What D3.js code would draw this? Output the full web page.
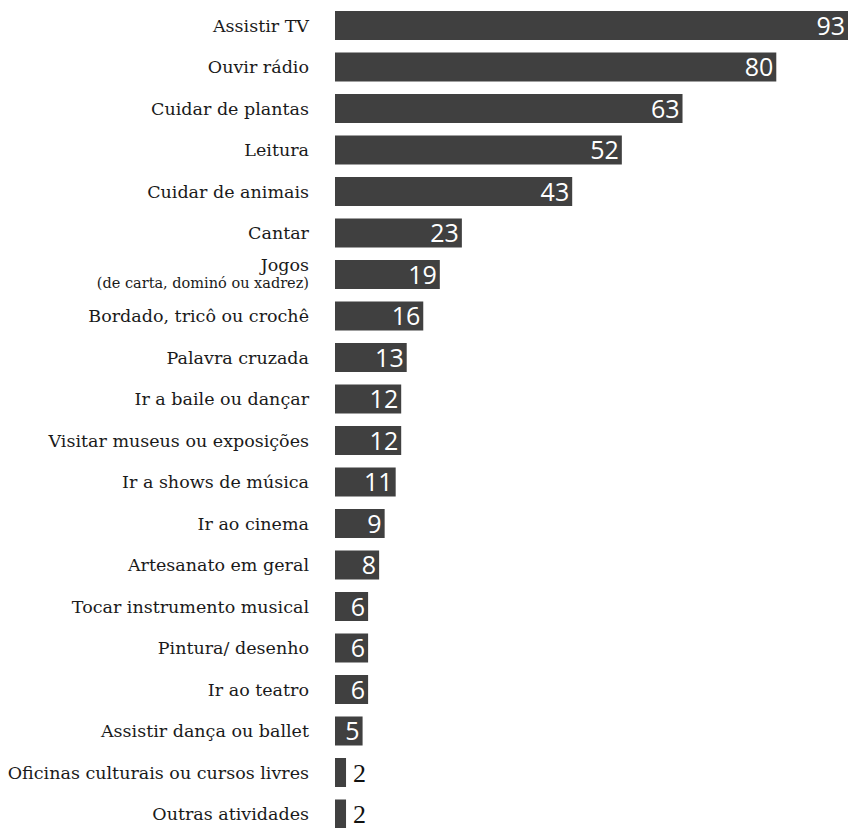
<!DOCTYPE html>
<html>
<head>
<meta charset="utf-8">
<script src="https://cdn.jsdelivr.net/npm/d3@7"></script>
<style>
  html, body { margin: 0; padding: 0; background: #fff; }
  svg { display: block; }
</style>
</head>
<body>
<svg id="chart" width="853" height="828"></svg>
<script>
// Atividades de lazer (%)
const categories = [
  "Assistir TV", "Ouvir rádio", "Cuidar de plantas", "Leitura", "Cuidar de animais",
  "Cantar", "Jogos", "Bordado, tricô ou crochê", "Palavra cruzada", "Ir a baile ou dançar",
  "Visitar museus ou exposições", "Ir a shows de música", "Ir ao cinema", "Artesanato em geral",
  "Tocar instrumento musical", "Pintura/ desenho", "Ir ao teatro", "Assistir dança ou ballet",
  "Oficinas culturais ou cursos livres", "Outras atividades"
];
const subtitles = { "Jogos": "(de carta, dominó ou xadrez)" };
const values = [93, 80, 63, 52, 43, 23, 19, 16, 13, 12, 12, 11, 9, 8, 6, 6, 6, 5, 2, 2];

const svg = d3.select("#chart");
const barLeft = 335, barMax = 513;
const x = d3.scaleLinear().domain([0, 93]).range([barLeft, barLeft + barMax]);
const y = d3.scaleBand().domain(categories).range([11, 828.5]).paddingInner(12.5 / 41.5).paddingOuter(0);

const labelFont = "DejaVu Serif";
const labelRight = 309;

const rows = svg.selectAll("g.row").data(categories).join("g").attr("class", "row");

rows.append("rect")
  .attr("x", x(0))
  .attr("y", d => y(d))
  .attr("width", (d, i) => x(values[i]) - x(0))
  .attr("height", y.bandwidth())
  .attr("fill", "#404040");

// category labels (with an optional smaller second line)
rows.each(function(d) {
  const g = d3.select(this);
  const cy = y(d) + y.bandwidth() / 2;
  if (subtitles[d]) {
    g.append("text").attr("x", labelRight).attr("y", cy - 4)
      .attr("text-anchor", "end")
      .attr("font-family", labelFont).attr("font-size", 17.5).attr("fill", "#1a1a1a")
      .text(d);
    g.append("text").attr("x", labelRight).attr("y", cy + 13)
      .attr("text-anchor", "end")
      .attr("font-family", labelFont).attr("font-size", 14.5).attr("fill", "#1a1a1a")
      .text(subtitles[d]);
  } else {
    g.append("text").attr("x", labelRight).attr("y", cy + 6)
      .attr("text-anchor", "end")
      .attr("font-family", labelFont).attr("font-size", 17.5).attr("fill", "#1a1a1a")
      .text(d);
  }
});

// value labels: inside the bar end, or just after it for short bars
const inside = v => v >= 4;
rows.append("text")
  .attr("x", (d, i) => inside(values[i]) ? x(values[i]) - 3 : x(values[i]) + 7)
  .attr("y", (d, i) => y(d) + y.bandwidth() / 2 + 9)
  .attr("text-anchor", (d, i) => inside(values[i]) ? "end" : "start")
  .attr("font-family", (d, i) => inside(values[i]) ? "Open Sans" : "Liberation Serif")
  .attr("font-size", (d, i) => inside(values[i]) ? 25 : 26)
  .attr("fill", (d, i) => inside(values[i]) ? "#fff" : "#111")
  .text((d, i) => values[i]);
</script>
</body>
</html>
